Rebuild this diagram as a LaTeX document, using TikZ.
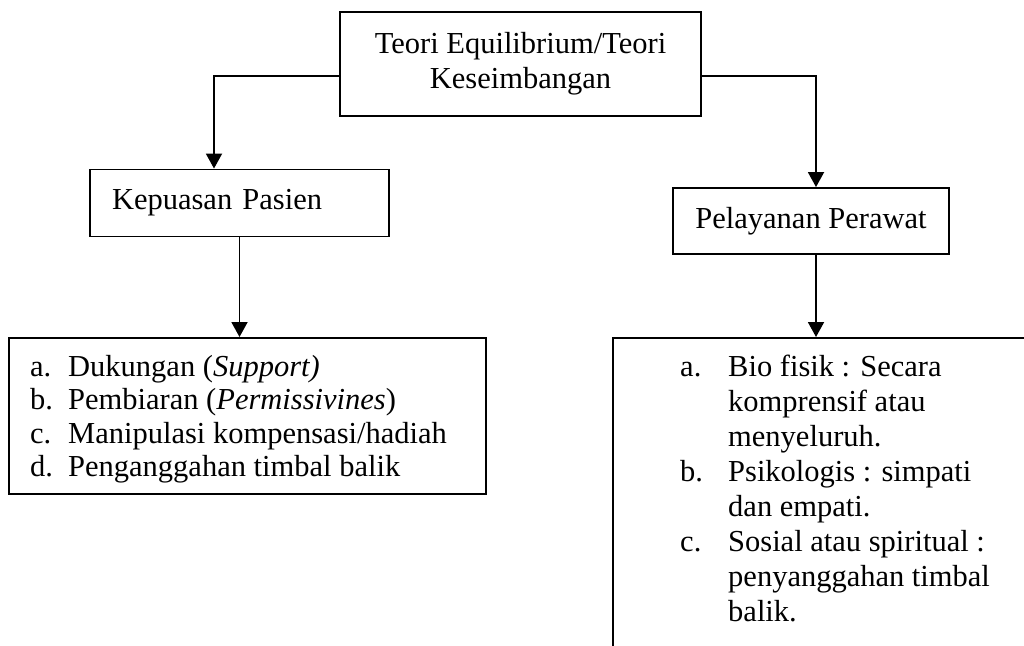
\documentclass[tikz,border=0pt]{standalone}
\usepackage{fontspec}
\setmainfont{Liberation Serif}
\usetikzlibrary{arrows.meta}

\begin{document}
\begin{tikzpicture}[x=1pt, y=1pt,
    txt/.style={font=\fontsize{30.5}{35}\selectfont},
    box/.style={draw, txt, line width=1.9pt, inner sep=0pt},
    arr/.style={line width=1.9pt, -{Triangle[length=15pt, width=16pt]}}]
    \useasboundingbox (0,0) rectangle (1024,-645);
    \clip (0,0) rectangle (1024,-645);

    \node[box, minimum width=361pt, minimum height=104pt, align=center] (teori) at (520.5,-64) {Teori Equilibrium/Teori\\Keseimbangan};
    \node[box, minimum width=299pt, minimum height=67pt, text width=255pt, align=left] (kepuasan) at (239.5,-203) {Kepuasan Pasien};
    \node[box, minimum width=276pt, minimum height=66pt, align=center] (pelayanan) at (811,-221) {Pelayanan Perawat};
    \node[box, anchor=north west, minimum width=477pt, minimum height=156pt] (dukungan) at (8,-337) {};
    \node[txt, font=\fontsize{30.5}{33.5}\selectfont, anchor=north west, inner sep=0pt, align=left] (dukunganlist) at ([xshift=22pt, yshift=-18pt]dukungan.north west) {%
      \makebox[38pt][l]{a.}Dukungan (\textit{Support)}\\
      \makebox[38pt][l]{b.}Pembiaran (\textit{Permissivines})\\
      \makebox[38pt][l]{c.}Manipulasi kompensasi/hadiah\\
      \makebox[38pt][l]{d.}Penganggahan timbal balik};
    \node[box, anchor=north west, minimum width=450pt, minimum height=340pt] (biofisik) at (612,-337) {};
    \node[txt, anchor=north west, inner sep=0pt, align=left] (biolist) at ([xshift=68pt, yshift=-18pt]biofisik.north west) {%
      \makebox[48pt][l]{a.}Bio fisik : Secara\\
      \hspace*{48pt}komprensif atau\\
      \hspace*{48pt}menyeluruh.\\
      \makebox[48pt][l]{b.}Psikologis : simpati\\
      \hspace*{48pt}dan empati.\\
      \makebox[48pt][l]{c.}Sosial atau spiritual :\\
      \hspace*{48pt}penyanggahan timbal\\
      \hspace*{48pt}balik.};

    \draw[arr] ([yshift=-12pt]teori.west) -| ([xshift=-25.5pt]kepuasan.north);
    \draw[arr] ([yshift=-12pt]teori.east) -| ([xshift=5pt]pelayanan.north);
    \draw[arr] (kepuasan.south) -- (kepuasan.south |- dukungan.north);
    \draw[arr] ([xshift=5pt]pelayanan.south) -- ([xshift=5pt]pelayanan.south |- biofisik.north);
\end{tikzpicture}
\end{document}
